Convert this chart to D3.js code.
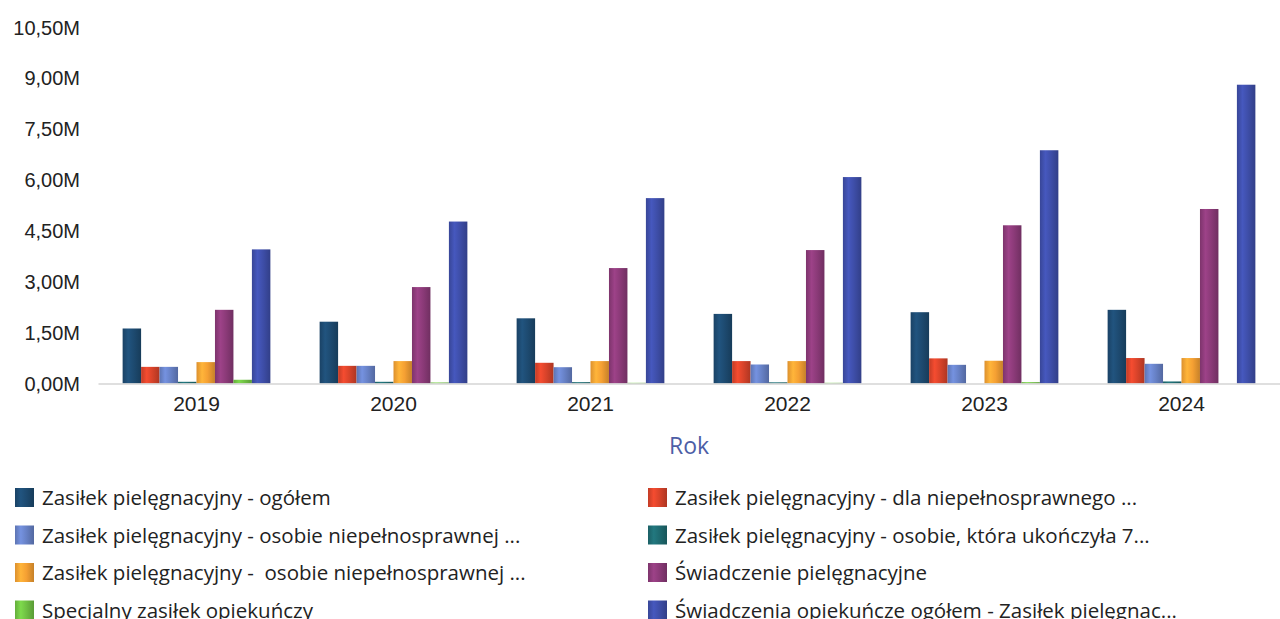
<!DOCTYPE html>
<html>
<head>
<meta charset="utf-8">
<script src="https://cdn.jsdelivr.net/npm/d3@7"></script>
<style>
  html, body { margin: 0; padding: 0; background: #fff; }
  svg { display: block; font-family: "Open Sans", "Noto Sans", sans-serif; }
</style>
</head>
<body>
<svg id="chart" width="1280" height="619"></svg>
<script>
// Years on the category axis
const years = ["2019", "2020", "2021", "2022", "2023", "2024"];

// Series names (legend order, left column then right column per row)
const seriesNames = [
  "Zasiłek pielęgnacyjny - ogółem",
  "Zasiłek pielęgnacyjny - dla niepełnosprawnego ...",
  "Zasiłek pielęgnacyjny - osobie niepełnosprawnej ...",
  "Zasiłek pielęgnacyjny - osobie, która ukończyła 7...",
  "Zasiłek pielęgnacyjny -  osobie niepełnosprawnej ...",
  "Świadczenie pielęgnacyjne",
  "Specjalny zasiłek opiekuńczy",
  "Świadczenia opiekuńcze ogółem - Zasiłek pielęgnac..."
];

// Values in millions, one array per series, indexed by year
const zpOgolem        = [1.62, 1.82, 1.92, 2.05, 2.10, 2.17];
const zpNiepelnosprDz = [0.49, 0.52, 0.61, 0.66, 0.74, 0.75];
const zpOsobieNiep1   = [0.49, 0.52, 0.48, 0.56, 0.55, 0.58];
const zpUkonczyla75   = [0.05, 0.05, 0.04, 0.035, 0, 0.06];
const zpOsobieNiep2   = [0.63, 0.66, 0.66, 0.66, 0.67, 0.75];
const swPielegnacyjne = [2.17, 2.84, 3.40, 3.93, 4.66, 5.14];
const specjalnyZasilek= [0.11, 0.03, 0.02, 0.02, 0.04, 0];
const swOpiekuncze    = [3.95, 4.77, 5.46, 6.08, 6.87, 8.80];

const seriesValues = [zpOgolem, zpNiepelnosprDz, zpOsobieNiep1, zpUkonczyla75,
                      zpOsobieNiep2, swPielegnacyjne, specjalnyZasilek, swOpiekuncze];

// Y tick values (millions)
const yTicks = [0, 1.5, 3, 4.5, 6, 7.5, 9, 10.5];

const colors = ["#1d4a70", "#d8432a", "#6781c6", "#1e6a70",
                "#f5a033", "#8b3a78", "#6fc043", "#3e4ea8"];

const svg = d3.select("#chart");
const margin = { left: 98, top: 27 };
const plotBottom = 383.5;

const x0 = d3.scaleBand().domain(years).range([margin.left, 1280]).paddingInner(0.25).paddingOuter(0.125);
const x1 = d3.scaleBand().domain(d3.range(seriesNames.length)).range([0, x0.bandwidth()]).padding(0);
const y = d3.scaleLinear().domain([0, 10.5]).range([plotBottom, margin.top]);

// Gradients giving each bar a rounded, shaded look
const defs = svg.append("defs");
colors.forEach((c, i) => {
  const g = defs.append("linearGradient").attr("id", "grad" + i)
    .attr("x1", "0%").attr("x2", "100%").attr("y1", "0%").attr("y2", "0%");
  const base = d3.color(c);
  g.append("stop").attr("offset", "0%").attr("stop-color", base.darker(0.3));
  g.append("stop").attr("offset", "30%").attr("stop-color", base.brighter(0.35));
  g.append("stop").attr("offset", "60%").attr("stop-color", base);
  g.append("stop").attr("offset", "100%").attr("stop-color", base.darker(0.6));
});

// Y axis labels
const yAxis = d3.axisLeft(y).tickValues(yTicks).tickSize(0).tickPadding(0)
  .tickFormat(d => d3.format(".2f")(d).replace(".", ",") + "M");
const yG = svg.append("g").attr("transform", "translate(80,0)").call(yAxis);
yG.select(".domain").remove();
yG.selectAll("text").attr("font-size", 20).attr("fill", "#222").attr("dy", "0.35em");

// Bars
const groups = svg.append("g").selectAll("g").data(years).join("g")
  .attr("transform", d => `translate(${x0(d)},0)`);
groups.selectAll("rect")
  .data((d, yi) => seriesValues.map((vals, si) => ({ si, v: vals[yi] })))
  .join("rect")
  .attr("x", d => x1(d.si))
  .attr("width", x1.bandwidth())
  .attr("y", d => y(d.v))
  .attr("height", d => plotBottom - y(d.v))
  .attr("fill", d => `url(#grad${d.si})`);

// X axis
const xAxis = d3.axisBottom(x0).tickSize(0).tickPadding(13);
const xG = svg.append("g").attr("transform", `translate(0,${plotBottom})`).call(xAxis);
xG.select(".domain").attr("stroke", "#d4d4d4").attr("stroke-width", 1.5);
xG.selectAll("text").attr("font-size", 21).attr("font-weight", 500).attr("fill", "#222");

// Axis title
svg.append("text").attr("x", (margin.left + 1280) / 2).attr("y", 454)
  .attr("text-anchor", "middle").attr("font-size", 23).attr("fill", "#4d5ea6").text("Rok");

// Legend: two columns, four rows
const legend = svg.append("g");
const legendItems = legend.selectAll("g").data(seriesNames).join("g")
  .attr("transform", (d, i) => `translate(${i % 2 === 0 ? 15 : 648},${488 + Math.floor(i / 2) * 37.5})`);
legendItems.append("rect").attr("width", 19).attr("height", 19)
  .attr("fill", (d, i) => `url(#grad${i})`);
legendItems.append("text").attr("x", 27).attr("y", 17)
  .attr("font-size", 20.5).attr("fill", "#222").attr("xml:space", "preserve").text(d => d);
</script>
</body>
</html>
